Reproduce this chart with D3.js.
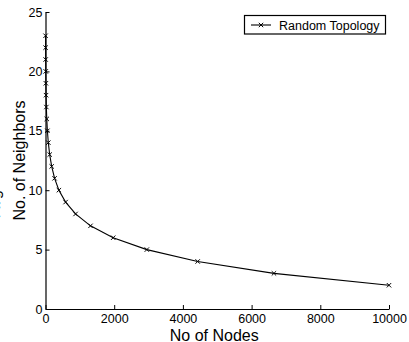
<!DOCTYPE html>
<html>
<head>
<meta charset="utf-8">
<script src="https://cdn.jsdelivr.net/npm/d3@7"></script>
<style>
  body { margin: 0; background: #fff; }
  svg { display: block; font-family: "Liberation Sans", Arial, sans-serif; }
</style>
</head>
<body>
<div id="chart"></div>
<script>
// dados
const nos = [10000, 6650, 4430, 2950, 1970, 1310, 875, 585, 390, 265, 180, 122, 82, 55, 37, 25, 16, 11, 7, 4.5, 3, 2];
const vizinhos = [2, 3, 4, 5, 6, 7, 8, 9, 10, 11, 12, 13, 14, 15, 16, 17, 18, 19, 20, 21, 22, 23];
const ticksX = [0, 2000, 4000, 6000, 8000, 10000];
const ticksY = [0, 5, 10, 15, 20, 25];
const serie = "Random Topology";

const largura = 409, altura = 342;
const margem = { top: 12, right: 20, bottom: 33, left: 45.5 };

const svg = d3.select("#chart").append("svg")
  .attr("width", largura)
  .attr("height", altura);

const x = d3.scaleLinear().domain([0, 10000]).range([margem.left, largura - margem.right]);
const y = d3.scaleLinear().domain([0, 25]).range([altura - margem.bottom, margem.top]);

// eixos (ticks para dentro, estilo matlab)
const eixoX = svg.append("g")
  .attr("transform", `translate(0,${y(0)})`)
  .call(d3.axisBottom(x).tickValues(ticksX).tickFormat(d3.format("d"))
    .tickSize(-4).tickPadding(5).tickSizeOuter(0));
const eixoY = svg.append("g")
  .attr("transform", `translate(${x(0)},0)`)
  .call(d3.axisLeft(y).tickValues(ticksY).tickFormat(d3.format("d"))
    .tickSize(-4).tickPadding(3).tickSizeOuter(0));

[eixoX, eixoY].forEach(g => {
  g.select(".domain").attr("stroke", "#000").attr("stroke-width", 1.2);
  g.selectAll(".tick line").attr("stroke", "#000");
  g.selectAll(".tick text").attr("fill", "#000").style("font-size", "12.5px").style("font-family", "Liberation Sans, Arial, sans-serif");
});

// linha
const dados = nos.map((n, i) => ({ n, v: vizinhos[i] }));
svg.append("path")
  .datum(dados)
  .attr("fill", "none")
  .attr("stroke", "#000")
  .attr("stroke-width", 1.1)
  .attr("d", d3.line().x(d => x(d.n)).y(d => y(d.v)));

// marcadores x
const m = 2.2;
const marcador = (g, cx, cy) => {
  g.append("path")
    .attr("d", `M${cx - m},${cy - m}L${cx + m},${cy + m}M${cx - m},${cy + m}L${cx + m},${cy - m}`)
    .attr("stroke", "#000").attr("stroke-width", 1);
};
const gm = svg.append("g");
dados.forEach(d => marcador(gm, x(d.n), y(d.v)));

// rótulos dos eixos
svg.append("text")
  .attr("x", (x(0) + x(10000)) / 2 - 3)
  .attr("y", 340.5)
  .attr("text-anchor", "middle")
  .style("font-size", "16px")
  .text("No of Nodes");

svg.append("text")
  .attr("transform", `translate(25,${(y(0) + y(25)) / 2}) rotate(-90)`)
  .attr("text-anchor", "middle")
  .style("font-size", "16px")
  .text("No. of Neighbors");

// texto cortado na margem esquerda
svg.append("text")
  .attr("transform", `translate(-0.5,190) rotate(-90)`)
  .attr("text-anchor", "end")
  .style("font-size", "16px")
  .text("Avg");

// legenda
const leg = svg.append("g");
leg.append("rect")
  .attr("x", 244.5).attr("y", 15.5)
  .attr("width", 141).attr("height", 18.5)
  .attr("fill", "#fff").attr("stroke", "#000").attr("stroke-width", 1.2);
leg.append("line")
  .attr("x1", 251).attr("x2", 271).attr("y1", 25).attr("y2", 25)
  .attr("stroke", "#000").attr("stroke-width", 1.1);
marcador(leg, 261, 25);
leg.append("text")
  .attr("x", 279).attr("y", 29.5)
  .style("font-size", "12.5px")
  .text(serie);
</script>
</body>
</html>
